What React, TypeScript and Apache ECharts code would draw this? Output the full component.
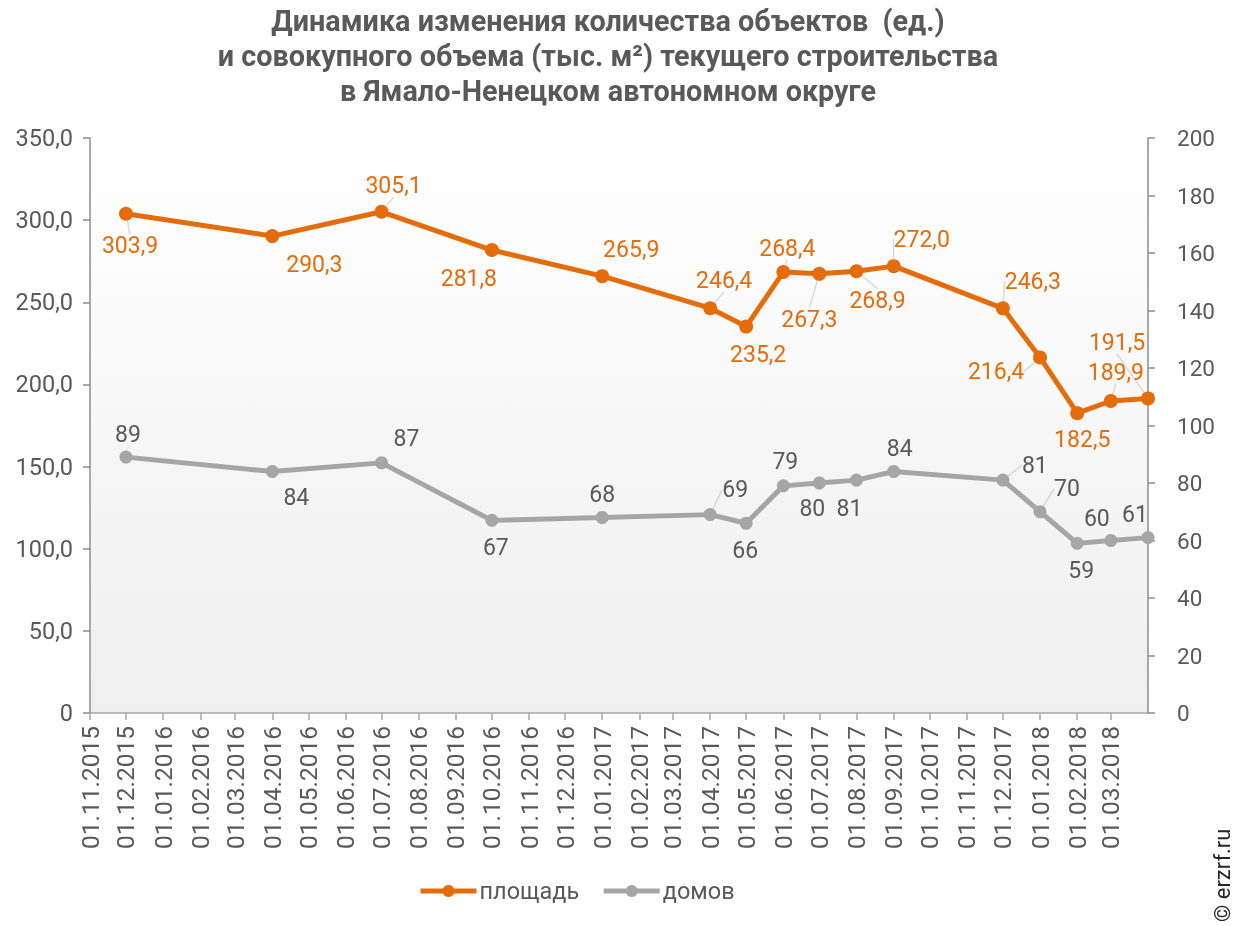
import React, { useEffect, useRef } from "react";
import * as echarts from "echarts";

// ---- data ----
const pointDates = [
  "01.12.2015", "01.04.2016", "01.07.2016", "01.10.2016", "01.01.2017",
  "01.04.2017", "01.05.2017", "01.06.2017", "01.07.2017", "01.08.2017",
  "01.09.2017", "01.12.2017", "01.01.2018", "01.02.2018", "01.03.2018",
  "01.04.2018",
];
const areaValues = [303.9, 290.3, 305.1, 281.8, 265.9, 246.4, 235.2, 268.4, 267.3, 268.9, 272.0, 246.3, 216.4, 182.5, 189.9, 191.5];
const houseValues = [89, 84, 87, 67, 68, 69, 66, 79, 80, 81, 84, 81, 70, 59, 60, 61];
const seriesNames = ["площадь", "домов"];
const titleLines = [
  "Динамика изменения количества объектов  (ед.)",
  "и совокупного объема (тыс. м²) текущего строительства",
  "в Ямало-Ненецком автономном округе",
];
const axisStart = [2015, 10, 1];
const axisEnd = [2018, 3, 1];

// ---- label placement (style) ----
const areaLabelOffsets = [
  [4, 32], [42, 28], [12, -26], [-23, 28], [29, -27], [14, -28], [12, 28], [4, -24],
  [-10, 46], [21, 29], [28, -27], [30, -27], [-44, 14], [5, 26], [5, -29], [-31, -56],
];
const areaLeader = [true, false, true, false, false, true, false, true, true, true, true, true, true, false, true, true];
const houseLabelOffsets = [
  [2, -23], [24, 26], [25, -24], [4, 27], [0, -23], [25, -25], [-1, 27], [2, -24],
  [-7, 25], [-7, 28], [6, -23], [32, -15], [27, -23], [4, 27], [-14, -22], [-13, -23],
];
const houseLeader = [false, false, false, false, false, true, false, false, false, false, false, true, true, false, false, false];

const ORANGE = "#E46C0A";
const GRAY = "#A6A6A6";
const TEXT = "#595959";
const FONT = "Roboto";

function pad(n: number) {
  return n < 10 ? "0" + n : "" + n;
}
function buildDays(): string[] {
  const out: string[] = [];
  const s = Date.UTC(axisStart[0], axisStart[1], axisStart[2]);
  const e = Date.UTC(axisEnd[0], axisEnd[1], axisEnd[2]);
  for (let t = s; t <= e; t += 86400000) {
    const d = new Date(t);
    out.push(pad(d.getUTCDate()) + "." + pad(d.getUTCMonth() + 1) + "." + d.getUTCFullYear());
  }
  return out;
}

export default function App() {
  const ref = useRef<HTMLDivElement>(null);
  useEffect(() => {
    if (!ref.current) return;
    const chart = echarts.init(ref.current, undefined, { renderer: "svg" });
    const days = buildDays();
    const showMonth = (i: number, v: string) => v.startsWith("01.") && i < days.length - 1;
    const fmt1 = (v: number) => v.toFixed(1).replace(".", ",");

    const option: any = {
      animation: false,
      textStyle: { fontFamily: FONT },
      grid: {
        left: 90,
        right: 100,
        top: 138,
        bottom: 213,
        show: true,
        borderWidth: 0,
        backgroundColor: new echarts.graphic.LinearGradient(0, 0, 0, 1, [
          { offset: 0, color: "#ffffff" },
          { offset: 1, color: "#efefef" },
        ]),
      },
      legend: {
        left: 413,
        top: 874,
        itemWidth: 56,
        itemHeight: 15,
        itemGap: 22,
        lineStyle: { width: 5 },
        textStyle: { fontSize: 23.5, color: TEXT, fontFamily: FONT, padding: [0, 0, 0, -2] },
        data: seriesNames,
      },
      xAxis: {
        type: "category",
        data: days,
        boundaryGap: false,
        axisLine: { lineStyle: { color: "#a6a6a6", width: 1.5 } },
        axisTick: { interval: showMonth, length: 7, lineStyle: { color: "#a6a6a6", width: 1.5 } },
        axisLabel: {
          interval: showMonth,
          rotate: 90,
          margin: 13,
          fontSize: 24.5,
          color: TEXT,
          fontFamily: FONT,
        },
        splitLine: { show: false },
      },
      yAxis: [
        {
          type: "value",
          min: 0,
          max: 350,
          interval: 50,
          position: "left",
          axisLine: { show: true, lineStyle: { color: "#8c8c8c", width: 1.5 } },
          axisTick: { show: true, length: 7, lineStyle: { color: "#8c8c8c", width: 1.5 } },
          axisLabel: {
            margin: 17,
            fontSize: 23.5,
            color: TEXT,
            fontFamily: FONT,
            formatter: (v: number) => (v === 0 ? "0" : fmt1(v)),
          },
          splitLine: { show: false },
        },
        {
          type: "value",
          min: 0,
          max: 200,
          interval: 20,
          position: "right",
          axisLine: { show: true, lineStyle: { color: "#8c8c8c", width: 1.5 } },
          axisTick: { show: true, length: 7, lineStyle: { color: "#8c8c8c", width: 1.5 } },
          axisLabel: { margin: 29, fontSize: 22.5, color: TEXT, fontFamily: FONT },
          splitLine: { show: false },
        },
      ],
      series: [
        {
          name: seriesNames[0],
          type: "line",
          yAxisIndex: 0,
          clip: false,
          showAllSymbol: true,
          data: pointDates.map((d, i) => ({
            value: [d, areaValues[i]],
            labelLine: { show: areaLeader[i] },
          })),
          symbol: "circle",
          symbolSize: 14,
          itemStyle: { color: ORANGE },
          lineStyle: { color: ORANGE, width: 5 },
          label: {
            show: true,
            position: "inside",
            fontSize: 23,
            color: ORANGE,
            fontFamily: FONT,
            formatter: (p: any) => fmt1(p.value[1]),
          },
          labelLine: { show: false, lineStyle: { color: "#d9d9d9", width: 1.5 } },
          labelLayout: (p: any) => ({
            dx: areaLabelOffsets[p.dataIndex][0],
            dy: areaLabelOffsets[p.dataIndex][1],
          }),
          z: 3,
        },
        {
          name: seriesNames[1],
          type: "line",
          yAxisIndex: 1,
          clip: false,
          showAllSymbol: true,
          data: pointDates.map((d, i) => ({
            value: [d, houseValues[i]],
            labelLine: { show: houseLeader[i] },
          })),
          symbol: "circle",
          symbolSize: 13,
          itemStyle: { color: GRAY },
          lineStyle: { color: GRAY, width: 5 },
          label: {
            show: true,
            position: "inside",
            fontSize: 23,
            color: TEXT,
            fontFamily: FONT,
            formatter: (p: any) => String(p.value[1]),
          },
          labelLine: { show: false, lineStyle: { color: "#d9d9d9", width: 1.5 } },
          labelLayout: (p: any) => ({
            dx: houseLabelOffsets[p.dataIndex][0],
            dy: houseLabelOffsets[p.dataIndex][1],
          }),
          z: 2,
        },
      ],
      graphic: [
        ...titleLines.map((t, i) => ({
          type: "text",
          x: 608,
          y: 21 + i * 35,
          scaleX: 0.96,
          style: {
            text: t,
            textAlign: "center",
            textVerticalAlign: "middle",
            font: "bold 30px Roboto",
            fill: TEXT,
          },
        })),
        {
          type: "text",
          x: 1222,
          y: 922,
          rotation: Math.PI / 2,
          style: {
            text: "© erzrf.ru",
            textAlign: "left",
            textVerticalAlign: "middle",
            font: "22px Roboto",
            fill: "#262626",
          },
        },
      ],
    };
    chart.setOption(option);
    return () => chart.dispose();
  }, []);
  return (
    <div
      ref={ref}
      style={{ position: "fixed", left: 0, top: 0, width: 1248, height: 926 }}
    />
  );
}
